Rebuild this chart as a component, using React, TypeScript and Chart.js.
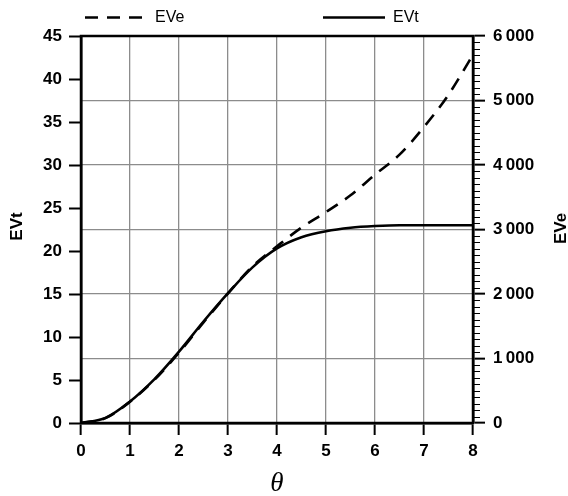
import React, { useEffect, useRef } from 'react';
import { Chart, registerables } from 'chart.js';

Chart.register(...registerables);

// θ samples and the two curves
const theta = [0, 0.5, 1, 1.5, 2, 2.5, 3, 3.5, 4, 4.5, 5, 5.5, 6, 6.5, 7, 7.5, 8];
const evt = [0, 0.6, 2.5, 5.1, 8.3, 11.8, 15.1, 18.1, 20.3, 21.6, 22.3, 22.7, 22.9, 23.0, 23.0, 23.0, 23.0];
const eve = [0, 75, 330, 670, 1090, 1560, 2010, 2430, 2740, 3030, 3270, 3530, 3850, 4160, 4590, 5090, 5710];

// right-axis tick labels (values 0..6000 in steps of 1000)
const eveTickValues = [0, 1000, 2000, 3000, 4000, 5000, 6000];
const eveTickLabels = ['0', '1\u2009000', '2\u2009000', '3\u2009000', '4\u2009000', '5\u2009000', '6\u2009000'];

const SANS = "'Liberation Sans', Arial, Helvetica, sans-serif";
const SERIF = "'Liberation Serif', 'Times New Roman', serif";

const tickFont = { family: SANS, size: 17, weight: 'bold' as const };
const gridGray = '#8c8c8c';

// frame, minor ticks on the right axis, legend and axis titles
const decorations = {
  id: 'decorations',
  afterDraw(chart: any) {
    const { ctx, chartArea: a, scales } = chart;
    ctx.save();

    // minor ticks every 100 on the EVe axis
    const y2 = scales.y2;
    ctx.strokeStyle = '#000';
    ctx.lineWidth = 1.2;
    ctx.beginPath();
    for (let v = 100; v < 6000; v += 100) {
      if (v % 1000 === 0) continue;
      const py = Math.round(y2.getPixelForValue(v)) + 0.5;
      ctx.moveTo(a.right, py);
      ctx.lineTo(a.right + 7, py);
    }
    ctx.stroke();

    // plot frame
    ctx.lineWidth = 2.5;
    ctx.strokeRect(a.left, a.top, a.right - a.left, a.bottom - a.top);

    // legend
    const ds = chart.data.datasets;
    const items = [
      { d: ds[0], x0: 85, x1: 144, tx: 155 },
      { d: ds[1], x0: 323, x1: 385, tx: 393 },
    ];
    const ly = 17.5;
    ctx.font = `16px ${SANS}`;
    ctx.textBaseline = 'middle';
    ctx.textAlign = 'left';
    for (const it of items) {
      ctx.strokeStyle = it.d.borderColor;
      ctx.lineWidth = it.d.borderWidth;
      ctx.setLineDash(it.d.borderDash || []);
      ctx.beginPath();
      ctx.moveTo(it.x0, ly);
      ctx.lineTo(it.x1, ly);
      ctx.stroke();
      ctx.setLineDash([]);
      ctx.fillStyle = '#000';
      ctx.fillText(it.d.label, it.tx, ly);
    }

    // axis titles
    const midY = (a.top + a.bottom) / 2;
    ctx.fillStyle = '#000';
    ctx.font = `bold 17px ${SANS}`;
    ctx.textAlign = 'center';
    ctx.textBaseline = 'middle';

    ctx.save();
    ctx.translate(17, midY - 3);
    ctx.rotate(-Math.PI / 2);
    ctx.fillText('EVt', 0, 0);
    ctx.restore();

    ctx.save();
    ctx.translate(561, midY - 1);
    ctx.rotate(-Math.PI / 2);
    ctx.fillText('EVe', 0, 0);
    ctx.restore();

    ctx.font = `italic 27px ${SERIF}`;
    ctx.fillText('θ', (a.left + a.right) / 2, 484);

    ctx.restore();
  },
};

export default function App() {
  const canvasRef = useRef<HTMLCanvasElement | null>(null);

  useEffect(() => {
    const canvas = canvasRef.current;
    if (!canvas) return;

    const chart = new Chart(canvas, {
      type: 'line',
      data: {
        datasets: [
          {
            label: 'EVe',
            data: theta.map((t, i) => ({ x: t, y: eve[i] })),
            yAxisID: 'y2',
            borderColor: '#000',
            borderWidth: 2.6,
            borderDash: [13, 9],
            cubicInterpolationMode: 'monotone',
            pointRadius: 0,
            fill: false,
          },
          {
            label: 'EVt',
            data: theta.map((t, i) => ({ x: t, y: evt[i] })),
            yAxisID: 'y',
            borderColor: '#000',
            borderWidth: 2.6,
            cubicInterpolationMode: 'monotone',
            pointRadius: 0,
            fill: false,
          },
        ],
      },
      options: {
        responsive: false,
        animation: false,
        layout: { padding: { top: 36, left: 0, right: 0, bottom: 0 } },
        plugins: {
          legend: { display: false },
          tooltip: { enabled: false },
        },
        scales: {
          x: {
            type: 'linear',
            min: 0,
            max: 8,
            afterFit: (s: any) => {
              s.height = 73;
            },
            ticks: { stepSize: 1, font: tickFont, color: '#000', padding: 6, maxRotation: 0 },
            grid: { color: gridGray, lineWidth: 1.3, tickColor: '#000', tickWidth: 2, tickLength: 12 },
            border: { color: '#000', width: 2.5 },
          },
          y: {
            type: 'linear',
            position: 'left',
            min: 0,
            max: 45,
            afterFit: (s: any) => {
              s.width = 81;
            },
            ticks: { stepSize: 5, font: tickFont, color: '#000', padding: 7 },
            grid: { drawOnChartArea: false, tickColor: '#000', tickWidth: 2, tickLength: 12 },
            border: { color: '#000', width: 2.5 },
          },
          y2: {
            type: 'linear',
            position: 'right',
            min: 0,
            max: 6000,
            afterFit: (s: any) => {
              s.width = 95;
            },
            ticks: {
              stepSize: 1000,
              font: tickFont,
              color: '#000',
              padding: 8,
              callback: (v: any) => {
                const i = eveTickValues.indexOf(Number(v));
                return i >= 0 ? eveTickLabels[i] : '';
              },
            },
            grid: { color: gridGray, lineWidth: 1.3, tickColor: '#000', tickWidth: 2, tickLength: 12 },
            border: { color: '#000', width: 2.5 },
          },
        },
      },
      plugins: [decorations],
    } as any);

    return () => chart.destroy();
  }, []);

  return (
    <div style={{ position: 'absolute', left: 0, top: 0, width: 568, height: 496, background: '#fff' }}>
      <canvas ref={canvasRef} width={568} height={496} style={{ display: 'block' }} />
    </div>
  );
}
